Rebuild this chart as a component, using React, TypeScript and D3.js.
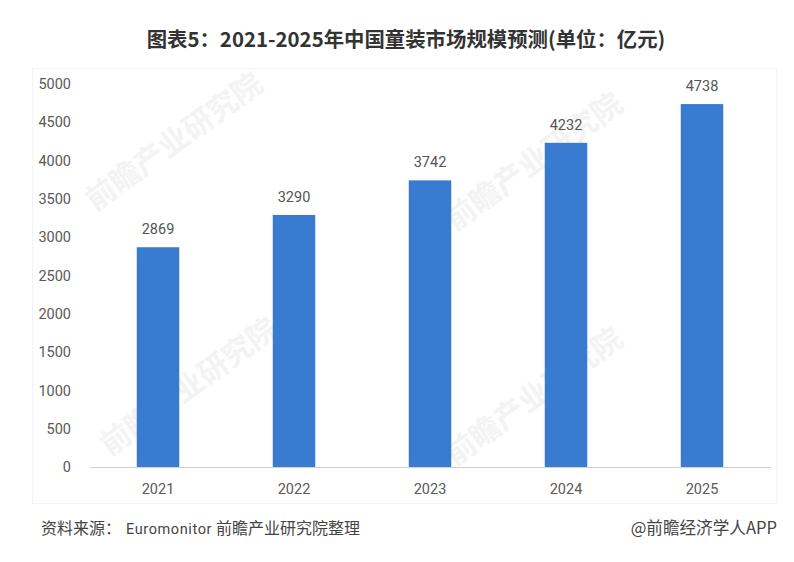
import * as React from 'react'
import * as d3 from 'd3'

const years = ['2021', '2022', '2023', '2024', '2025']
const values = [2869, 3290, 3742, 4232, 4738]
const yTicks = [0, 500, 1000, 1500, 2000, 2500, 3000, 3500, 4000, 4500, 5000]

const title = '图表5：2021-2025年中国童装市场规模预测(单位：亿元)'
const sourceParts = ['资料来源：', 'Euromonitor', '前瞻产业研究院整理']
const sourceStarts = [41, 126, 216]
const credit = '@前瞻经济学人APP'
const watermark = '前瞻产业研究院'

const width = 794
const height = 562
const margin = { left: 90, top: 84, right: 24, bottom: 95 }
const cjk = '"Noto Sans CJK SC", "Noto Sans", sans-serif'
const latin = 'Roboto, sans-serif'

export default function App() {
    const ref = React.useRef<SVGSVGElement | null>(null)

    React.useEffect(() => {
        if (!ref.current)
            return
        const svg = d3.select(ref.current)
        svg.selectAll('*').remove()

        const x = d3.scaleBand<string>()
            .domain(years)
            .range([margin.left, width - margin.right])
            .paddingInner(0.6875)
            .paddingOuter(0.34375)

        const y = d3.scaleLinear()
            .domain([0, 5000])
            .range([height - margin.bottom, margin.top])

        // page and plot background
        svg.append('rect').attr('width', width).attr('height', height).attr('fill', '#ffffff')
        svg.append('rect')
            .attr('x', 32.5).attr('y', 68.5)
            .attr('width', 744).attr('height', 435)
            .attr('fill', '#ffffff')
            .attr('stroke', '#f3f3f3')

        // watermarks
        const marks: [number, number][] = [[180, 150], [540, 170], [195, 395], [540, 405]]
        svg.selectAll('text.watermark')
            .data(marks)
            .enter().append('text')
            .attr('class', 'watermark')
            .attr('transform', d => `translate(${d[0]},${d[1]}) rotate(-36)`)
            .attr('text-anchor', 'middle')
            .attr('font-family', cjk)
            .attr('font-size', 30)
            .attr('font-weight', 700)
            .attr('fill', '#f3f3f3')
            .text(watermark)

        // bars
        svg.selectAll('rect.bar')
            .data(values)
            .enter().append('rect')
            .attr('class', 'bar')
            .attr('x', (d, i) => x(years[i]) as number)
            .attr('y', d => y(d))
            .attr('width', x.bandwidth())
            .attr('height', d => y(0) - y(d))
            .attr('fill', '#3a7bd2')

        // value labels
        svg.selectAll('text.value')
            .data(values)
            .enter().append('text')
            .attr('class', 'value')
            .attr('x', (d, i) => (x(years[i]) as number) + x.bandwidth() / 2)
            .attr('y', d => y(d) - 13)
            .attr('text-anchor', 'middle')
            .attr('font-family', latin)
            .attr('font-size', 14.5)
            .attr('fill', '#555555')
            .text(d => d)

        // x axis
        const xAxis = svg.append('g')
            .attr('transform', `translate(0,${y(0)})`)
            .call(d3.axisBottom(x).tickSize(0).tickPadding(17))
        xAxis.select('.domain').attr('stroke', '#cfcfcf')
        xAxis.selectAll('text')
            .attr('font-family', latin)
            .attr('font-size', 14.5)
            .attr('fill', '#595959')

        // y axis
        const yAxis = svg.append('g')
            .attr('transform', `translate(${margin.left},0)`)
            .call(d3.axisLeft(y).tickValues(yTicks).tickSize(0).tickPadding(19).tickFormat(d => String(d)))
        yAxis.select('.domain').remove()
        yAxis.selectAll('text')
            .attr('font-family', latin)
            .attr('font-size', 14.5)
            .attr('fill', '#595959')

        // title
        svg.append('text')
            .attr('x', 406).attr('y', 47)
            .attr('text-anchor', 'middle')
            .attr('font-family', cjk)
            .attr('font-size', 20.4)
            .attr('font-weight', 700)
            .attr('fill', '#333333')
            .text(title)

        // footer
        const src = svg.append('text')
            .attr('y', 534)
            .attr('fill', '#444444')
        sourceParts.forEach((part, i) => {
            src.append('tspan')
                .attr('x', sourceStarts[i])
                .attr('font-size', i === 1 ? 14.5 : 16)
                .attr('letter-spacing', i === 1 ? 0.6 : 0)
                .attr('font-family', i === 1 ? latin : cjk)
                .text(part)
        })
        svg.append('text')
            .attr('x', 777).attr('y', 534)
            .attr('text-anchor', 'end')
            .attr('font-family', cjk)
            .attr('font-size', 16.6)
            .attr('fill', '#444444')
            .text(credit)
    }, [])

    return (
        <svg
            ref={ref}
            width={width}
            height={height}
            style={{ position: 'absolute', left: 0, top: 0 }} />
    )
}
